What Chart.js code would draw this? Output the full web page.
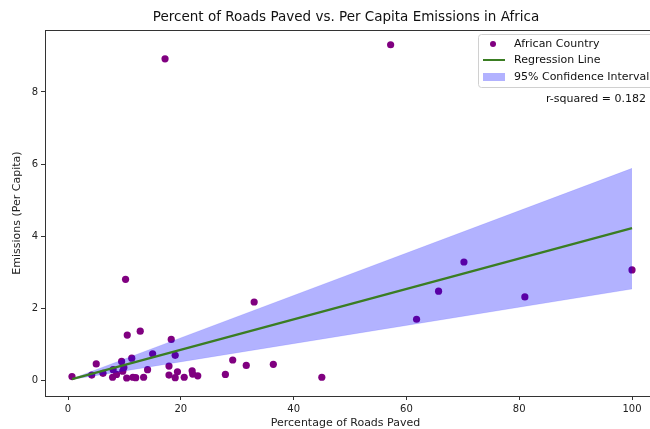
<!DOCTYPE html>
<html>
<head>
<meta charset="utf-8">
<script src="https://cdn.jsdelivr.net/npm/chart.js@4"></script>
<style>
  html, body { margin: 0; padding: 0; background: #fff; }
  #wrap { width: 650px; height: 429px; position: relative; }
</style>
</head>
<body>
<div id="wrap"><canvas id="myChart"></canvas></div>
<script>
// Datos: porcentaje de caminos pavimentados vs emisiones per cápita
const roadsPaved = [0.7, 4.2, 5.0, 6.2, 7.9, 8.0, 8.6, 9.5, 9.7, 9.9, 10.2, 10.4, 10.5, 11.3, 11.5,
    12.0, 12.8, 13.4, 14.1, 15.0, 17.2, 17.9, 17.9, 18.3, 19.0, 19.0, 19.4, 20.6, 22.0, 22.1,
    23.0, 27.9, 29.2, 31.6, 33.0, 36.4, 45.0, 57.2, 61.8, 65.7, 70.2, 81.0, 100.0];
const emissions = [0.10, 0.14, 0.45, 0.19, 0.08, 0.29, 0.16, 0.52, 0.25, 0.35, 2.80, 0.06, 1.25, 0.61, 0.08,
    0.07, 1.36, 0.08, 0.29, 0.73, 8.92, 0.39, 0.14, 1.13, 0.69, 0.07, 0.23, 0.08, 0.26, 0.17,
    0.12, 0.16, 0.56, 0.41, 2.17, 0.44, 0.08, 9.31, 1.69, 2.47, 3.28, 2.31, 3.06];

// Recta de regresión e intervalo de confianza (extremos)
const fitX = [0.7, 100];
const fitY = [0.03, 4.22];
const ciUpper = [0.04, 5.88];
const ciLower = [0.02, 2.53];

const xTicks = [0, 20, 40, 60, 80, 100];
const yTicks = [0, 2, 4, 6, 8];
const rSquared = 0.182;

const FONT = "'DejaVu Sans', sans-serif";
const PURPLE = '#800080';
const GREEN = '#3a7d22';
const BAND = 'rgba(0, 0, 255, 0.3)';

// Título, marco y leyenda dibujados a mano (estilo matplotlib)
const decorPlugin = {
    id: 'decor',
    afterDraw(chart) {
        const ctx = chart.ctx;
        const a = chart.chartArea;
        ctx.save();
        // marco
        ctx.strokeStyle = '#333';
        ctx.lineWidth = 1;
        ctx.strokeRect(a.left + 0.5, a.top + 0.5, a.right - a.left + 20, a.bottom - a.top);

        // título
        ctx.fillStyle = '#111';
        ctx.font = '13.5px ' + FONT;
        ctx.textAlign = 'center';
        ctx.textBaseline = 'middle';
        ctx.fillText('Percent of Roads Paved vs. Per Capita Emissions in Africa', 346, 17);

        // leyenda
        const bx = 478, by = 34, bw = 190, bh = 53;
        ctx.fillStyle = 'rgba(255,255,255,0.8)';
        ctx.strokeStyle = '#d0d0d0';
        ctx.beginPath();
        ctx.roundRect(bx + 0.5, by + 0.5, bw, bh, 3);
        ctx.fill();
        ctx.stroke();

        ctx.fillStyle = PURPLE;
        ctx.beginPath();
        ctx.arc(493, 44, 3, 0, Math.PI * 2);
        ctx.fill();

        ctx.strokeStyle = GREEN;
        ctx.lineWidth = 2;
        ctx.beginPath();
        ctx.moveTo(483, 60);
        ctx.lineTo(505, 60);
        ctx.stroke();

        ctx.fillStyle = BAND;
        ctx.fillRect(483, 73, 22, 8);

        ctx.fillStyle = '#111';
        ctx.font = '11px ' + FONT;
        ctx.textAlign = 'left';
        ctx.fillText('African Country', 514, 44);
        ctx.fillText('Regression Line', 514, 60);
        ctx.fillText('95% Confidence Interval', 514, 77);

        ctx.textAlign = 'right';
        ctx.fillText('r-squared = ' + rSquared.toFixed(3), 646, 99);
        ctx.restore();
    }
};

const ctx = document.getElementById('myChart').getContext('2d');
new Chart(ctx, {
    data: {
        datasets: [
            {
                type: 'scatter',
                label: 'African Country',
                data: roadsPaved.map((x, i) => ({ x: x, y: emissions[i] })),
                backgroundColor: PURPLE,
                borderWidth: 0,
                pointRadius: 3.6,
                order: 4
            },
            {
                type: 'line',
                label: '95% Confidence Interval',
                data: fitX.map((x, i) => ({ x: x, y: ciUpper[i] })),
                borderColor: 'rgba(0,0,255,0.2)',
                borderWidth: 0.5,
                pointRadius: 0,
                backgroundColor: BAND,
                fill: '+1',
                order: 3
            },
            {
                type: 'line',
                label: 'lower',
                data: fitX.map((x, i) => ({ x: x, y: ciLower[i] })),
                borderColor: 'rgba(0,0,255,0.2)',
                borderWidth: 0.5,
                pointRadius: 0,
                fill: false,
                order: 2
            },
            {
                type: 'line',
                label: 'Regression Line',
                data: fitX.map((x, i) => ({ x: x, y: fitY[i] })),
                borderColor: GREEN,
                borderWidth: 2.2,
                pointRadius: 0,
                fill: false,
                order: 1
            }
        ]
    },
    options: {
        responsive: true,
        maintainAspectRatio: false,
        animation: false,
        layout: { padding: { top: 30, right: 0, left: 0, bottom: 0 } },
        plugins: {
            legend: { display: false },
            title: { display: false },
            tooltip: { enabled: false }
        },
        scales: {
            x: {
                type: 'linear',
                min: -4.085,
                max: 102.48,
                afterFit: (s) => { s.height = 33; },
                afterBuildTicks: (s) => { s.ticks = xTicks.map(v => ({ value: v })); },
                grid: { drawOnChartArea: false, tickLength: 4, tickColor: '#333' },
                border: { color: '#333', width: 1 },
                ticks: { color: '#222', font: { family: FONT, size: 10 }, padding: 3, maxRotation: 0 },
                title: {
                    display: true,
                    text: 'Percentage of Roads Paved',
                    color: '#222',
                    font: { family: FONT, size: 11, lineHeight: 1 },
                    padding: { top: 1, bottom: 0 }
                }
            },
            y: {
                type: 'linear',
                min: -0.44,
                max: 9.72,
                afterFit: (s) => { s.width = 45; },
                afterBuildTicks: (s) => { s.ticks = yTicks.map(v => ({ value: v })); },
                grid: { drawOnChartArea: false, tickLength: 4, tickColor: '#333' },
                border: { color: '#333', width: 1 },
                ticks: { color: '#222', font: { family: FONT, size: 10 }, padding: 3 },
                title: {
                    display: true,
                    text: 'Emissions (Per Capita)',
                    color: '#222',
                    font: { family: FONT, size: 11, lineHeight: 1.2 },
                    padding: { top: 11, bottom: 0 }
                }
            }
        }
    },
    plugins: [decorPlugin]
});
</script>
</body>
</html>
